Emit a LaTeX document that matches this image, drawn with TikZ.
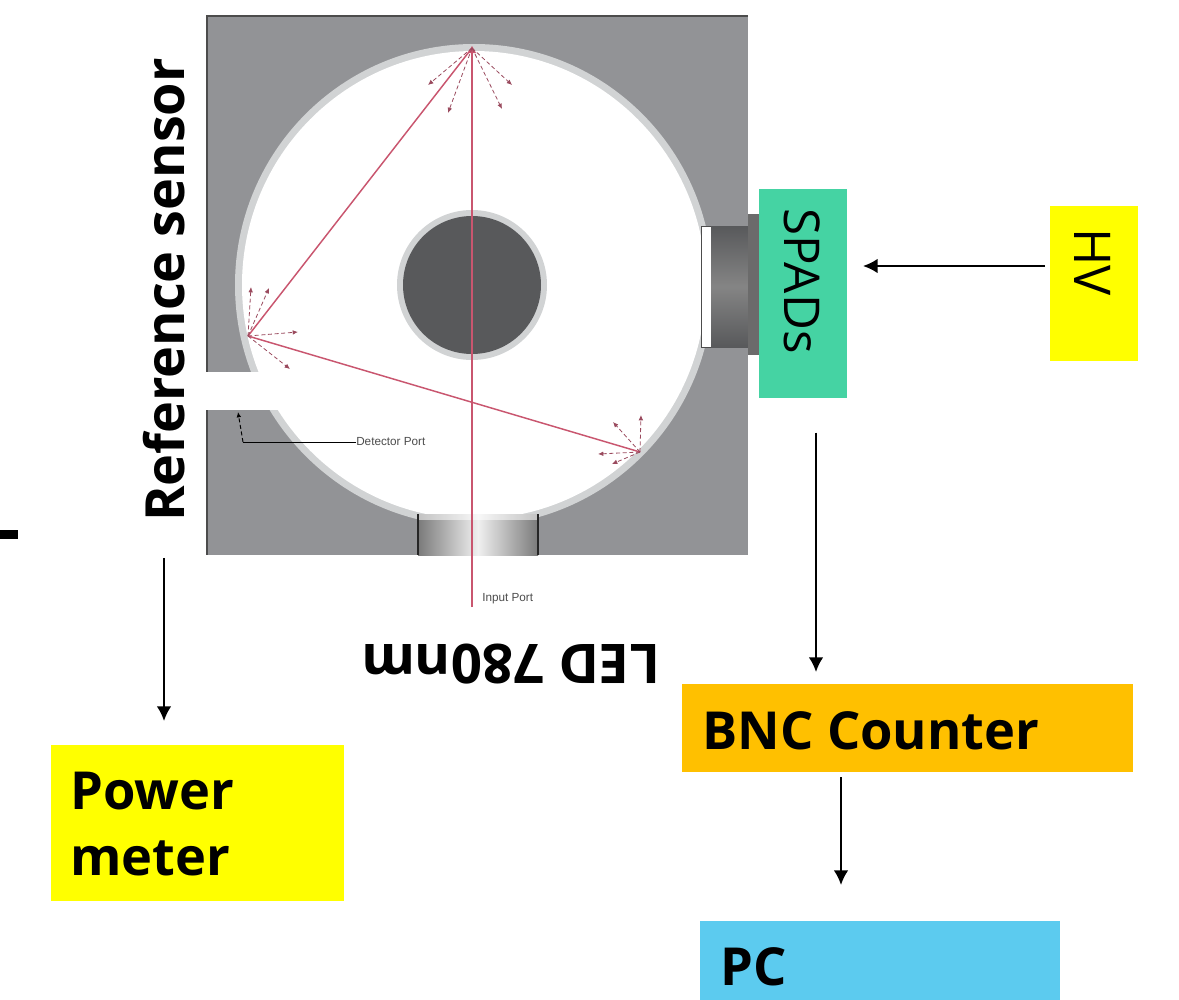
\documentclass[tikz,border=0pt]{standalone}
\usepackage{fontspec}
\setmainfont{Open Sans}
\newfontfamily\smallfont{Liberation Sans}
\usetikzlibrary{arrows.meta}
\definecolor{blockgray}{HTML}{929396}
\definecolor{bandgray}{HTML}{D1D3D4}
\definecolor{coregray}{HTML}{58595B}
\definecolor{rayred}{HTML}{C9566F}
\definecolor{raydark}{HTML}{9A4A5E}
\definecolor{powerbox}{HTML}{FFFF00}
\definecolor{spadbox}{HTML}{45D3A3}
\definecolor{bncbox}{HTML}{FFC000}
\definecolor{pcbox}{HTML}{5CCBEF}
\tikzset{
  boxlabel/.style={font=\fontsize{39.3}{50}\selectfont\bfseries,text=black},
  flow/.style={draw=black,line width=1.5pt,-{Latex[length=11pt,width=11pt]}},
  ray/.style={draw=rayred,line width=1.1pt},
  scatter/.style={draw=raydark,line width=.6pt,densely dashed,-{Latex[length=4pt,width=3.5pt]}},
  tinytext/.style={font=\smallfont\fontsize{8.8}{10}\selectfont,text=black!70,inner sep=0pt}
}
\begin{document}
\begin{tikzpicture}[x=0.75pt,y=-0.75pt]
\useasboundingbox (0,0) rectangle (1179,1000);
% integrating sphere block
\fill[blockgray] (207,16) rectangle (748,555);
\draw[black!70,line width=.8pt] (748,16) -- (207,16) -- (207,555);
\fill[bandgray] (474,285) ellipse [x radius=239,y radius=241];
\fill[white] (474,285) ellipse [x radius=232,y radius=234];
% detector port
\fill[white] (200,372) rectangle (300,410);
% centre baffle
\fill[bandgray] (472,285) circle (75);
\fill[coregray] (472,285) circle (69);
% right port
\fill[white] (701,226) rectangle (711,347);
\draw[black!70,line width=.5pt] (711,226) -- (701,226) -- (701,347) -- (711,347);
\shade[top color=coregray,bottom color=coregray,middle color=black!48] (711,226) rectangle (748,347);
\fill[black!58] (748,214) rectangle (759,355);
% input port
\shade[left color=black!52,right color=black!6] (418,514) rectangle (478,555);
\shade[left color=black!6,right color=black!52] (478,514) rectangle (538,555);
\fill[white,opacity=.55] (418,514) rectangle (538,520);
\draw[black!85,line width=.8pt] (418,514) -- (418,555) (538,514) -- (538,555);
% rays
\coordinate (rayTop) at (472,48);
\coordinate (rayLeft) at (248,336);
\coordinate (rayRight) at (640,452);
\coordinate (rayIn) at (472,607);
\draw[ray,line width=1.6pt] (rayIn) -- (rayTop);
\draw[ray] (rayTop) -- (rayLeft);
\draw[ray] (rayLeft) -- (rayRight);
\fill[rayred] (468,53) -- (472,46) -- (476,53) -- cycle;
\foreach \t in {(428,85),(448,113),(502,109),(512,85)} \draw[scatter] (rayTop) -- \t;
\foreach \t in {(251,287),(269,288),(298,332),(290,369)} \draw[scatter] (rayLeft) -- \t;
\foreach \t in {(641,415),(613,422),(598,454),(612,464)} \draw[scatter] (rayRight) -- \t;
% small labels
\node[tinytext,anchor=west] (detlabel) at (356,442) {Detector Port};
\node[tinytext,anchor=west] (inlabel) at (482,599) {Input Port};
\coordinate (detbend) at (243,442);
\coordinate (dettip) at (238,412);
\draw[black,line width=.7pt] (detlabel.west) -- (detbend);
\draw[black,line width=.7pt,densely dashed,-{Latex[length=4pt,width=3.5pt]}] (detbend) -- (dettip);
% boxes
\node[fill=powerbox,inner sep=0pt,outer sep=0pt,minimum width=219.75pt,minimum height=117pt] (power) at (197.5,823) {};
\node[boxlabel,anchor=west,align=left,inner sep=0pt] (powertext) at (70,824) {Power\\[-.02em]meter};
\node[fill=bncbox,inner sep=0pt,outer sep=0pt,minimum width=338.25pt,minimum height=66pt] (bnc) at (907.5,728) {};
\node[boxlabel,anchor=west,inner sep=0pt] (bnctext) at (702,731) {BNC Counter};
\node[fill=pcbox,inner sep=0pt,outer sep=0pt,minimum width=270pt,minimum height=59.25pt] (pc) at (880,960.5) {};
\node[boxlabel,anchor=west,inner sep=0pt] (pctext) at (720,967) {PC};
\node[fill=spadbox,inner sep=0pt,outer sep=0pt,minimum width=66pt,minimum height=156.75pt] (spads) at (803,293.5) {};
\node[font=\fontsize{37}{40}\selectfont,rotate=-90,inner sep=0pt] (spadstext) at (802,281) {SPADs};
\node[fill=powerbox,inner sep=0pt,outer sep=0pt,minimum width=66pt,minimum height=116.25pt] (hv) at (1094,283.5) {};
\node[font=\fontsize{38}{40}\selectfont,rotate=-90,inner sep=0pt] (hvtext) at (1093,262) {HV};
\node[font=\fontsize{40.5}{50}\selectfont\bfseries,rotate=90,inner sep=0pt,outer sep=0pt] (sensor) at (164,290) {Reference sensor};
\node[font=\fontsize{41}{50}\selectfont\bfseries,rotate=180,inner sep=0pt] (led) at (511,664) {LED 780nm};
% stray mark
\fill[black] (0,530) rectangle (18,539);
% connectors
\coordinate (lineHV) at (0,266);
\coordinate (lineSP) at (816,0);
\coordinate (lineBN) at (841,0);
\coordinate (linePW) at (164,0);
\draw[flow,shorten <=3.75pt,shorten >=12pt] (hv.west |- lineHV) -- (spads.east |- lineHV);
\draw[flow,shorten <=26pt,shorten >=9pt] (spads.south -| lineSP) -- (bnc.north -| lineSP);
\draw[flow,shorten <=3.75pt,shorten >=27pt] (bnc.south -| lineBN) -- (pc.north -| lineBN);
\draw[flow,shorten <=27pt,shorten >=18pt] (sensor.west -| linePW) -- (power.north -| linePW);
\end{tikzpicture}
\end{document}
